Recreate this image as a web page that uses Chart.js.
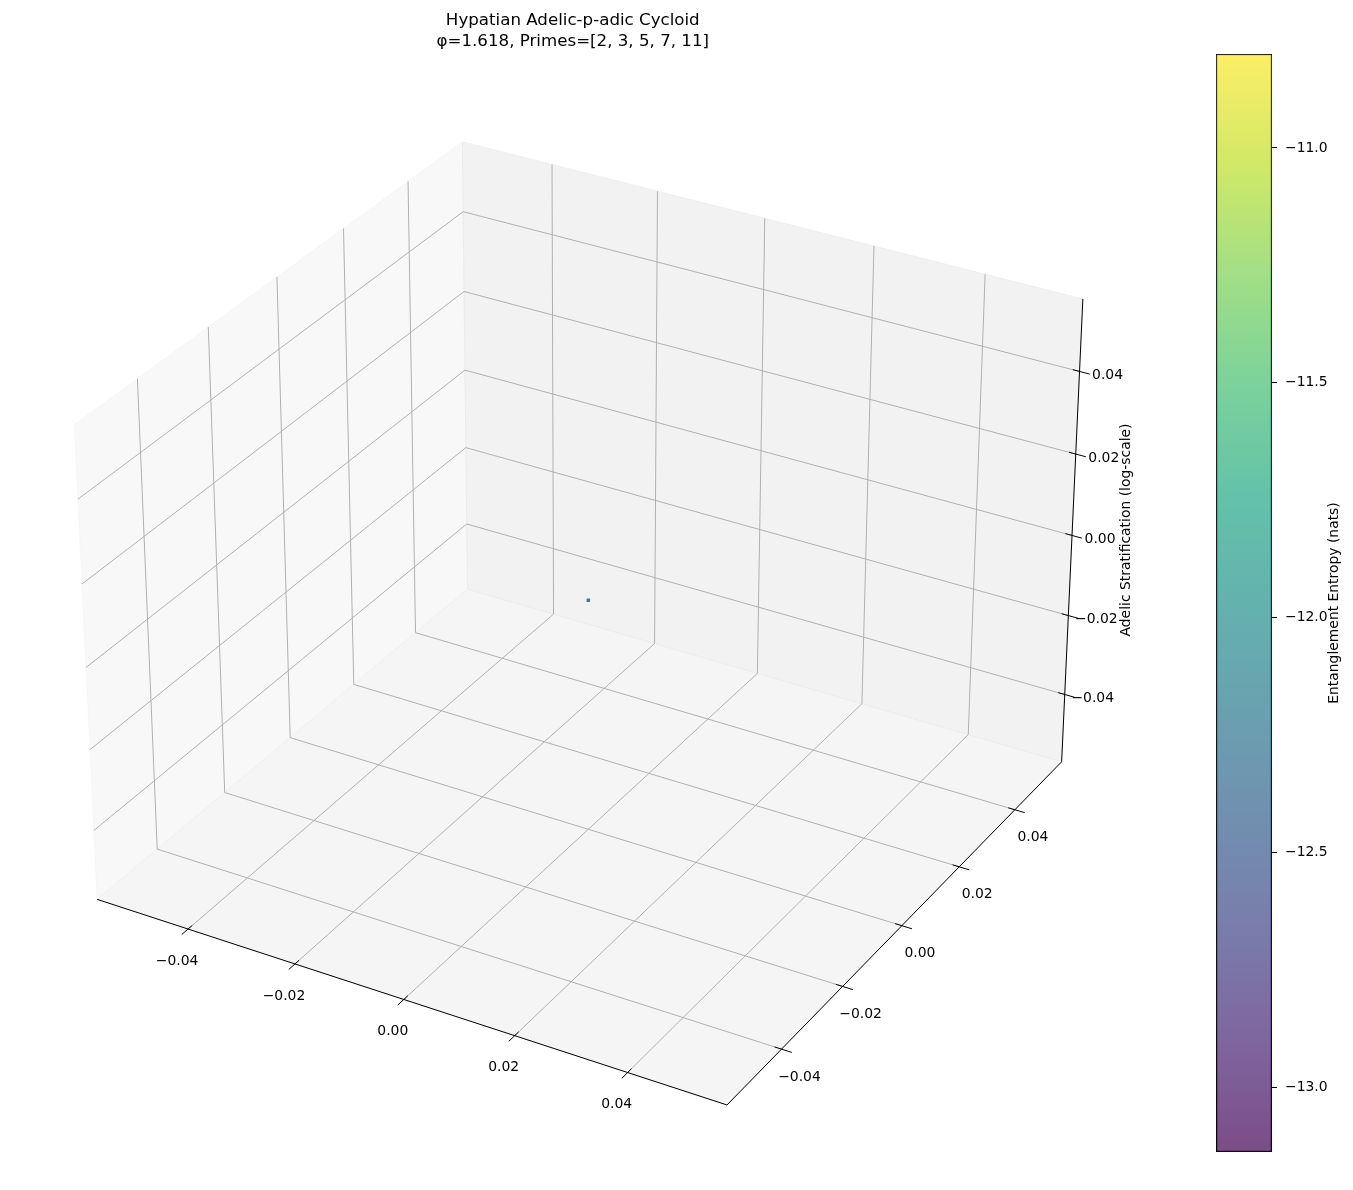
<!DOCTYPE html>
<html>
<head>
<meta charset="utf-8">
<script src="https://cdn.jsdelivr.net/npm/chart.js@4.4.0/dist/chart.umd.min.js"></script>
<style>
html,body{margin:0;padding:0;background:#ffffff;}
#wrap{position:relative;width:1353px;height:1190px;overflow:hidden;background:#fff;}
#main{position:absolute;left:0;top:0;}
#cbar{position:absolute;left:1200px;top:44px;}
</style>
</head>
<body>
<div id="wrap">
<canvas id="main" width="1353" height="1190"></canvas>
<canvas id="cbar" width="153" height="1118"></canvas>
</div>
<script>
// ---------------- DATA ----------------
const titleLines = ['Hypatian Adelic-p-adic Cycloid', 'φ=1.618, Primes=[2, 3, 5, 7, 11]'];
const xLimits = [-0.055, 0.055];
const yLimits = [-0.055, 0.055];
const zLimits = [-0.055, 0.055];
const xTicks = [-0.04, -0.02, 0.00, 0.02, 0.04];
const yTicks = [-0.04, -0.02, 0.00, 0.02, 0.04];
const zTicks = [-0.04, -0.02, 0.00, 0.02, 0.04];
const xTickLabels = ['−0.04', '−0.02', '0.00', '0.02', '0.04'];
const yTickLabels = ['−0.04', '−0.02', '0.00', '0.02', '0.04'];
const zTickLabels = ['−0.04', '−0.02', '0.00', '0.02', '0.04'];
const zAxisTitle = 'Adelic Stratification (log-scale)';
const pointX = [0.0];
const pointY = [0.0];
const pointZ = [0.0];
const pointEntropy = [-12.0];
const cbTicks = [-13.0, -12.5, -12.0, -11.5, -11.0];
const cbMin = -13.138;
const cbMax = -10.80;
const cbTitle = 'Entanglement Entropy (nats)';

// ---------------- STYLE ----------------
const FONT = "'DejaVu Sans', 'Liberation Sans', sans-serif";
const W = 1353, H = 1190;
const GRID = 'rgb(176,176,176)';

const VIRIDIS = [[0,'#440154'],[0.1,'#482475'],[0.2,'#414487'],[0.3,'#355f8d'],[0.4,'#2a788e'],
  [0.5,'#21918c'],[0.6,'#22a884'],[0.7,'#44bf70'],[0.8,'#7ad151'],[0.9,'#bddf26'],[1,'#fde725']];
function hex2rgb(h){return [parseInt(h.slice(1,3),16),parseInt(h.slice(3,5),16),parseInt(h.slice(5,7),16)];}
function viridis(t, alpha){
  t = Math.max(0, Math.min(1, t));
  let i = 0;
  while (i < VIRIDIS.length - 2 && t > VIRIDIS[i+1][0]) i++;
  const [t0,c0] = VIRIDIS[i], [t1,c1] = VIRIDIS[i+1];
  const f = (t - t0) / (t1 - t0);
  const a = hex2rgb(c0), b = hex2rgb(c1);
  const c = a.map((v,k)=>Math.round(v + (b[k]-v)*f));
  return `rgba(${c[0]},${c[1]},${c[2]},${alpha})`;
}

// ---------------- 3D PROJECTION (matplotlib-like, elev 30, azim -60) ----------------
function buildProjection(xl, yl, zl){
  const nrm = Math.hypot(4,4,3);
  const asp = [4,4,3].map(a => a * 1.8294640721620434 / nrm);
  const e = 30*Math.PI/180, az = -60*Math.PI/180, dist = 10;
  const w = [Math.cos(e)*Math.cos(az), Math.cos(e)*Math.sin(az), Math.sin(e)];
  const R = asp.map(v => v/2);
  let u = [-w[1], w[0], 0];
  const un = Math.hypot(u[0],u[1],u[2]); u = u.map(v=>v/un);
  const v = [w[1]*u[2]-w[2]*u[1], w[2]*u[0]-w[0]*u[2], w[0]*u[1]-w[1]*u[0]];
  const lims = [xl, yl, zl];
  return function(x, y, z){
    const q = [x,y,z].map((c,i)=>(c - lims[i][0])/(lims[i][1]-lims[i][0])*asp[i] - R[i]);
    const dot = A => A[0]*q[0]+A[1]*q[1]+A[2]*q[2];
    const den = dist - dot(w);
    return [dot(u)/den, dot(v)/den];
  };
}
const proj = buildProjection(xLimits, yLimits, zLimits);
const padOf = l => (l[1]-l[0])/48;
const X0 = xLimits[0]-padOf(xLimits), X1 = xLimits[1]+padOf(xLimits);
const Y0 = yLimits[0]-padOf(yLimits), Y1 = yLimits[1]+padOf(yLimits);
const Z0 = zLimits[0]-padOf(zLimits), Z1 = zLimits[1]+padOf(zLimits);

// layout calibration of the box corners on the page
const anchors = [
  [[X0,Y0,Z0],[94,900]], [[X1,Y0,Z0],[728,1107]], [[X1,Y1,Z0],[1062,762]], [[X0,Y1,Z0],[467,591]],
  [[X0,Y0,Z1],[72,423]], [[X0,Y1,Z1],[462,140]], [[X1,Y1,Z1],[1085,298]]
];
function fitView(){
  const P = anchors.map(([d,p]) => [proj(...d), p]);
  const n = P.length;
  let mtx=0,mty=0,mpx=0,mpy=0;
  P.forEach(([t,p])=>{mtx+=t[0];mty+=t[1];mpx+=p[0];mpy+=p[1];});
  mtx/=n; mty/=n; mpx/=n; mpy/=n;
  let num=0, den=0;
  P.forEach(([t,p])=>{const a=t[0]-mtx,b=t[1]-mty; num += a*(p[0]-mpx) - b*(p[1]-mpy); den += a*a+b*b;});
  const s = num/den;
  return {s, ox: mpx - s*mtx, oy: mpy + s*mty};
}
const VIEW = fitView();

function P3(x,y,z){ const t = proj(x,y,z); return {x:t[0], y:t[1]}; }

// ---------------- DATASETS ----------------
const datasets = [];
function seg(a, b, color, width, order){
  datasets.push({type:'scatter', data:[P3(...a), P3(...b)], showLine:true, borderColor:color,
    borderWidth:width, pointRadius:0, pointHoverRadius:0, fill:false, order:order});
}
// grid lines
xTicks.forEach(t => { seg([t,Y0,Z0],[t,Y1,Z0],GRID,1,3); seg([t,Y1,Z0],[t,Y1,Z1],GRID,1,3); });
yTicks.forEach(t => { seg([X0,t,Z0],[X1,t,Z0],GRID,1,3); seg([X0,t,Z0],[X0,t,Z1],GRID,1,3); });
zTicks.forEach(t => { seg([X0,Y0,t],[X0,Y1,t],GRID,1,3); seg([X0,Y1,t],[X1,Y1,t],GRID,1,3); });
// axis lines
seg([X0,Y0,Z0],[X1,Y0,Z0],'#000',1,2);
seg([X1,Y0,Z0],[X1,Y1,Z0],'#000',1,2);
seg([X1,Y1,Z0],[X1,Y1,Z1],'#000',1,2);
// tick marks
const tOut = 0.0018, tIn = 0.0012;
xTicks.forEach(t => seg([t,Y0-tOut,Z0],[t,Y0+tIn,Z0],'#000',1,1));
yTicks.forEach(t => seg([X1+tOut,t,Z0],[X1-tIn,t,Z0],'#000',1,1));
zTicks.forEach(t => seg([X1+tOut,Y1,t],[X1-tIn,Y1,t],'#000',1,1));
// data points
datasets.push({type:'scatter', order:0,
  data: pointX.map((x,i)=>P3(x, pointY[i], pointZ[i])),
  pointStyle:'rect', pointRadius:2.5, pointHoverRadius:2.5, borderWidth:0,
  backgroundColor: pointEntropy.map(v => viridis((v-cbMin)/(cbMax-cbMin), 1))
});

// ---------------- PLUGINS ----------------
const panes = [
  {c:[[X0,Y0,Z0],[X0,Y1,Z0],[X0,Y1,Z1],[X0,Y0,Z1]], col:'rgba(242,242,242,0.5)'},
  {c:[[X0,Y1,Z0],[X1,Y1,Z0],[X1,Y1,Z1],[X0,Y1,Z1]], col:'rgba(230,230,230,0.5)'},
  {c:[[X0,Y0,Z0],[X1,Y0,Z0],[X1,Y1,Z0],[X0,Y1,Z0]], col:'rgba(236,236,236,0.5)'}
];
const panePlugin = {
  id:'panes',
  beforeDatasetsDraw(chart){
    const ctx = chart.ctx, sx = chart.scales.x, sy = chart.scales.y;
    ctx.save();
    panes.forEach(p => {
      ctx.beginPath();
      p.c.forEach((c,i) => { const q = P3(...c); const px = sx.getPixelForValue(q.x), py = sy.getPixelForValue(q.y);
        if (i===0) ctx.moveTo(px,py); else ctx.lineTo(px,py); });
      ctx.closePath();
      ctx.fillStyle = p.col; ctx.fill();
      ctx.strokeStyle = p.col; ctx.lineWidth = 1; ctx.stroke();
    });
    ctx.restore();
  }
};
const labelPlugin = {
  id:'labels3d',
  afterDatasetsDraw(chart){
    const ctx = chart.ctx, sx = chart.scales.x, sy = chart.scales.y;
    const px = q => [sx.getPixelForValue(q.x), sy.getPixelForValue(q.y)];
    ctx.save();
    ctx.fillStyle = '#000';
    ctx.font = `13.9px ${FONT}`;
    ctx.textAlign = 'center'; ctx.textBaseline = 'middle';
    xTicks.forEach((t,i) => { const [a,b] = px(P3(t,Y0,Z0)); ctx.fillText(xTickLabels[i], a-11, b+32); });
    yTicks.forEach((t,i) => { const [a,b] = px(P3(X1,t,Z0)); ctx.fillText(yTickLabels[i], a+18, b+28); });
    zTicks.forEach((t,i) => { const [a,b] = px(P3(X1,Y1,t)); ctx.fillText(zTickLabels[i], a+28, b+4); });
    // z axis title
    ctx.save();
    ctx.translate(1126, 530); ctx.rotate(-Math.PI/2);
    ctx.fillText(zAxisTitle, 0, 0);
    ctx.restore();
    // title
    ctx.font = `16.67px ${FONT}`;
    ctx.textBaseline = 'alphabetic';
    const cx = VIEW.ox - VIEW.s*0.0025;
    ctx.fillText(titleLines[0], cx, 25);
    ctx.fillText(titleLines[1], cx, 45.5);
    ctx.restore();
  }
};

new Chart(document.getElementById('main'), {
  type:'scatter',
  data:{datasets},
  options:{
    responsive:false, animation:false, devicePixelRatio:1,
    layout:{padding:0},
    plugins:{legend:{display:false}, tooltip:{enabled:false}, title:{display:false}},
    scales:{
      x:{type:'linear', display:false, min:(0-VIEW.ox)/VIEW.s, max:(W-VIEW.ox)/VIEW.s},
      y:{type:'linear', display:false, min:(VIEW.oy-H)/VIEW.s, max:VIEW.oy/VIEW.s}
    }
  },
  plugins:[panePlugin, labelPlugin]
});

// ---------------- COLORBAR ----------------
const cbLabelPlugin = {
  id:'cbLabel',
  afterDraw(chart){
    const ctx = chart.ctx;
    ctx.save();
    ctx.fillStyle = '#000';
    ctx.font = `13.9px ${FONT}`;
    ctx.textAlign = 'center'; ctx.textBaseline = 'middle';
    const ca = chart.chartArea;
    ctx.translate(134, (ca.top + ca.bottom)/2);
    ctx.rotate(-Math.PI/2);
    ctx.fillText(cbTitle, 0, 0);
    ctx.restore();
  }
};
new Chart(document.getElementById('cbar'), {
  type:'bar',
  data:{labels:['cb'], datasets:[{
    data:[[cbMin, cbMax]],
    barPercentage:1, categoryPercentage:1,
    borderColor:'#000', borderWidth:1, borderSkipped:false,
    backgroundColor:(c) => {
      const ca = c.chart.chartArea;
      if (!ca) return 'rgba(0,0,0,0)';
      const g = c.chart.ctx.createLinearGradient(0, ca.bottom, 0, ca.top);
      VIRIDIS.forEach(([t,h]) => g.addColorStop(t, viridis(t, 0.7)));
      return g;
    }
  }]},
  options:{
    responsive:false, animation:false, devicePixelRatio:1,
    layout:{padding:{left:16, right:0, top:10, bottom:10}},
    plugins:{legend:{display:false}, tooltip:{enabled:false}},
    scales:{
      x:{display:false},
      y:{position:'right', min:cbMin, max:cbMax,
        afterBuildTicks:(s)=>{ s.ticks = cbTicks.map(v=>({value:v})); },
        afterFit:(s)=>{ s.width = 81; s.paddingTop = 0; s.paddingBottom = 0; },
        border:{display:false},
        grid:{drawOnChartArea:false, drawTicks:true, tickLength:5, tickColor:'#000', tickWidth:1},
        ticks:{color:'#000', padding:8, font:{family:FONT, size:13.9},
          callback:(v)=> (v<0?'−':'') + Math.abs(v).toFixed(1)}
      }
    }
  },
  plugins:[cbLabelPlugin]
});
</script>
</body>
</html>
